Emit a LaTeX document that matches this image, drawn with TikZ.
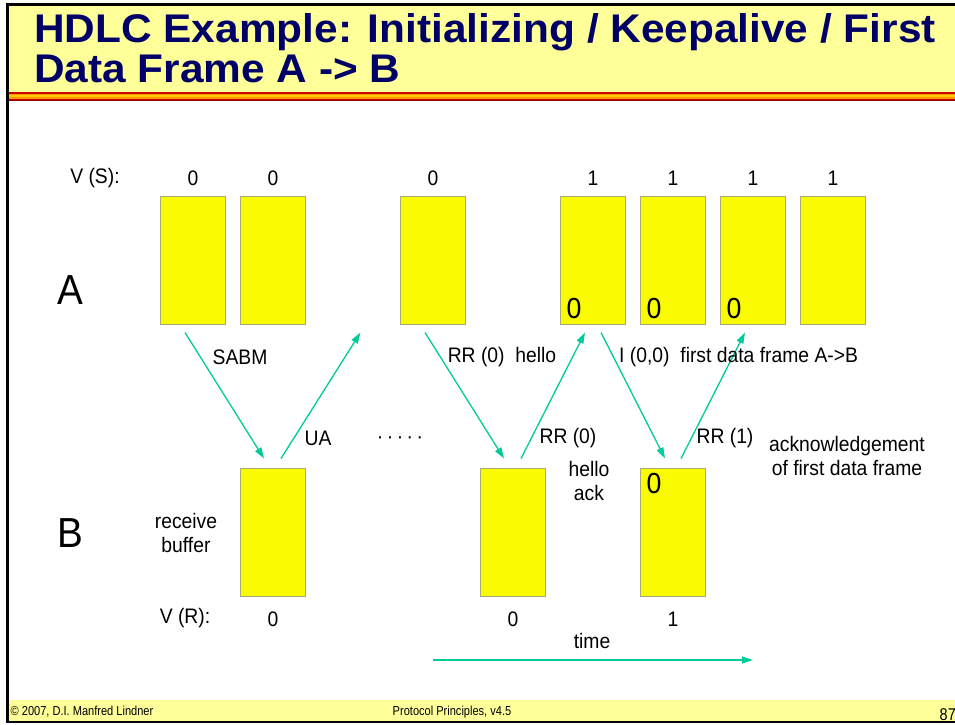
\documentclass[tikz,border=0pt]{standalone}
\usepackage{fontspec}
\setmainfont{Liberation Sans}[FakeStretch=0.92]
\newfontfamily\titlefont{Liberation Sans}[FakeStretch=1.06]
\newfontfamily\footfont{Liberation Sans}[FakeStretch=0.85]
\usetikzlibrary{arrows.meta}
\definecolor{titlebg}{RGB}{255,255,153}
\definecolor{titleblue}{RGB}{0,0,102}
\definecolor{boxyellow}{RGB}{250,250,0}
\definecolor{boxedge}{RGB}{170,170,110}
\definecolor{teal}{RGB}{0,204,153}
\definecolor{stripered}{RGB}{204,0,0}
\definecolor{stripedark}{RGB}{153,0,0}
\definecolor{stripeorange}{RGB}{255,153,0}
\definecolor{stripeyellow}{RGB}{255,204,0}
\tikzset{
  buf/.style={draw=boxedge, fill=boxyellow, line width=1pt, minimum width=65pt, minimum height=128pt, inner sep=0pt},
  lbl/.style={font=\fontsize{21}{23.5}\selectfont, inner sep=0pt, align=center},
  big/.style={font=\fontsize{42}{44}\selectfont, inner sep=0pt},
  seq/.style={font=\fontsize{29}{30}\selectfont, inner sep=0pt},
  msg/.style={draw=teal, line width=1.3pt, -{Triangle[length=11pt,width=7pt]}},
  foot/.style={font=\footfont\fontsize{13}{14}\selectfont, inner sep=0pt}
}
\begin{document}
\begin{tikzpicture}[x=1pt,y=-1pt]
\useasboundingbox (0,0) rectangle (955,724);
% frame, title band, footer band
\fill[white] (0,0) rectangle (955,724);
\fill[titlebg] (7,5) rectangle (955,92);
\fill[stripered] (7,92) rectangle (955,93.5);
\fill[stripeorange] (7,93.5) rectangle (955,95);
\fill[stripeyellow] (7,95) rectangle (955,97);
\fill[stripeorange] (7,97) rectangle (955,98.5);
\fill[stripered] (7,98.5) rectangle (955,100);
\fill[stripedark] (7,100) rectangle (955,101);
\fill[titlebg] (7,700) rectangle (955,721);
\draw[black, line width=3pt] (7,723) -- (7,4.5) -- (955,4.5);
\draw[black, line width=2.5pt] (7,722) -- (955,722);
% title
\node[anchor=base west, align=left, inner sep=0pt, text=titleblue,
      font=\titlefont\bfseries\fontsize{40}{40}\selectfont] (title) at (34,82)
  {HDLC Example: Initializing / Keepalive / First\\Data Frame A -> B};
% footer
\node[foot] (f1) at (82,712) {© 2007, D.I. Manfred Lindner};
\node[foot] (f2) at (452,712) {Protocol Principles, v4.5};
\node[foot, font=\footfont\fontsize{17}{18}\selectfont, anchor=base east] (f3) at (956,720) {87};
% A side buffers
\node[buf] (a1) at (192.5,260) {};
\node[buf] (a2) at (272.5,260) {};
\node[buf] (a3) at (432.5,260) {};
\node[buf] (a4) at (592.5,260) {};
\node[buf] (a5) at (672.5,260) {};
\node[buf] (a6) at (752.5,260) {};
\node[buf] (a7) at (832.5,260) {};
% B side buffers
\node[buf] (b1) at (272.5,532) {};
\node[buf] (b2) at (512.5,532) {};
\node[buf] (b3) at (672.5,532) {};
% numbers inside buffers
\node[seq] (n4) at (574,309) {0};
\node[seq] (n5) at (654,309) {0};
\node[seq] (n6) at (734,309) {0};
\node[seq] (nb3) at (654,484) {0};
% V(S)
\node[lbl] (vs) at (95,178) {V (S):};
\node[lbl] (vs1) at (193,178) {0};
\node[lbl] (vs2) at (273,178) {0};
\node[lbl] (vs3) at (433,178) {0};
\node[lbl] (vs4) at (593,178) {1};
\node[lbl] (vs5) at (673,178) {1};
\node[lbl] (vs6) at (753,178) {1};
\node[lbl] (vs7) at (833,178) {1};
% V(R)
\node[lbl] (vr) at (185,618) {V (R):};
\node[lbl] (vr1) at (273,619) {0};
\node[lbl] (vr2) at (513,619) {0};
\node[lbl] (vr3) at (673,619) {1};
% stations
\node[big] (A) at (70,290) {A};
\node[big] (B) at (70,533) {B};
% messages
\draw[msg] ([xshift=-7.5pt,yshift=-8pt]a1.south) -- ([xshift=-8.5pt,yshift=9pt]b1.north);
\draw[msg] ([xshift=8.5pt,yshift=9pt]b1.north) -- ([xshift=-72pt,yshift=-8pt]a3.south);
\draw[msg] ([xshift=-7.5pt,yshift=-8pt]a3.south) -- ([xshift=-8.5pt,yshift=9pt]b2.north);
\draw[msg] ([xshift=8.5pt,yshift=9pt]b2.north) -- ([xshift=-7.5pt,yshift=-8pt]a4.south);
\draw[msg] ([xshift=8.5pt,yshift=-8pt]a4.south) -- ([xshift=-7.5pt,yshift=9pt]b3.north);
\draw[msg] ([xshift=8.5pt,yshift=9pt]b3.north) -- ([xshift=-7.5pt,yshift=-8pt]a6.south);
% message labels
\node[lbl] (l1) at (240,357) {SABM};
\node[lbl] (l2) at (318,438) {UA};
\node[lbl] (dots) at (400,440) {·\,·\,·\,·\,·};
\node[lbl] (l3) at (502,357) {RR (0) \ hello};
\node[lbl] (l4) at (568,438) {RR (0)};
\node[lbl] (l5) at (589,481) {hello\\ack};
\node[lbl, anchor=west] (l6) at (619,357) {I (0,0) \ first data frame A->B};
\node[lbl] (l7) at (725,438) {RR (1)};
\node[lbl] (l8) at (847,456) {acknowledgement\\of first data frame};
\node[lbl] (l9) at (186,533) {receive\\buffer};
% time axis
\node[lbl] (time) at (592,641) {time};
\coordinate (t0) at (433,660);
\coordinate (t1) at (753,660);
\draw[msg] (t0) -- (t1);
\end{tikzpicture}
\end{document}
